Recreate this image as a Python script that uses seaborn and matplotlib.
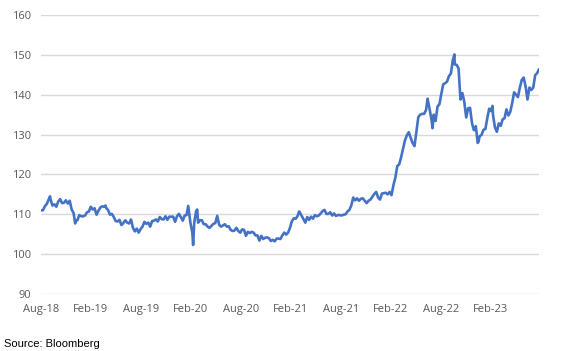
import pandas as pd
import matplotlib
matplotlib.use("Agg")
import matplotlib.pyplot as plt
import seaborn as sns

# Weekly (Friday) closes, 31 Aug 2018 -> 25 Aug 2023
START = "2018-08-31"
END = "2023-08-25"

vals_2018 = [111.0, 111.0, 112.0, 112.6, 113.7, 113.7, 112.2, 112.5, 111.9,
             113.2, 113.8, 112.8, 112.9, 113.5, 112.7, 113.4, 111.2, 110.3]
vals_2019 = [108.5, 108.5, 109.8, 109.5,
             109.5, 109.7, 110.5, 110.7,
             111.9, 111.2, 111.5, 109.9, 110.9,
             111.7, 112.0, 111.9, 111.6,
             111.1, 109.9, 110.1, 109.3, 108.3,
             108.2, 108.6, 107.3, 107.8,
             108.5, 107.9, 107.7, 108.7,
             106.6, 105.7, 106.4, 105.4, 106.3,
             106.9, 108.1, 107.6, 107.9,
             106.9, 108.3, 108.4, 108.7,
             108.2, 109.3, 108.8, 108.7, 109.5,
             108.6, 109.4, 109.4, 109.4]
vals_2020 = [108.1, 109.5, 110.1, 109.3, 108.4,
             109.7, 109.8, 111.6, 107.9,
             105.4, 107.9, 110.8, 107.9,
             108.5, 108.5, 107.5, 107.5,
             106.9, 106.6, 107.1, 107.6, 107.8,
             109.6, 107.4, 106.9, 107.2,
             107.5, 106.9, 107.0, 106.1, 105.8,
             105.9, 106.6, 105.8, 105.4,
             106.2, 106.1, 104.6, 105.6,
             105.3, 105.6, 105.4, 104.7, 104.7,
             103.4, 104.6, 103.8, 104.1,
             104.2, 104.0, 103.3, 103.6]
vals_2021 = [103.2, 103.9, 103.9, 103.8, 104.7,
             105.4, 104.9, 105.4, 106.6,
             108.3, 109.0, 108.9, 109.6,
             110.6, 109.7, 108.8, 107.9, 109.3,
             108.6, 109.4, 108.9, 109.8,
             109.5, 109.7, 110.2, 110.8,
             111.1, 110.1, 110.1, 110.5, 109.7,
             110.2, 109.6, 109.8, 109.8,
             109.7, 109.9, 110.0, 110.7,
             111.1, 112.2, 114.2, 113.5, 114.0,
             113.4, 113.9, 114.0, 113.4,
             112.8, 113.4, 113.7, 114.4, 115.1]
vals_2022 = [115.6, 114.2, 113.7, 115.2,
             115.3, 115.4, 115.0, 115.6,
             114.8, 117.3, 119.2, 122.1,
             122.5, 124.3, 126.4, 128.5, 129.8,
             130.6, 129.2, 127.9, 127.1,
             130.8, 134.4, 135.0, 135.2,
             135.2, 136.1, 138.5, 136.1, 133.3,
             135.0, 133.4, 137.0, 137.6,
             140.2, 142.6, 142.9, 143.3, 144.7,
             145.3, 148.7, 147.6, 147.5,
             146.6, 138.8, 140.4, 138.2,
             134.3, 136.6, 136.7, 132.9, 131.1]
vals_2023 = [132.1, 127.9, 129.6, 129.9,
             131.2, 131.4, 134.1, 136.5,
             135.9, 134.9, 131.8, 130.7, 132.8,
             132.2, 133.8, 134.1, 136.3,
             134.8, 135.7, 137.9, 140.6,
             140.0, 139.4, 141.8, 143.7, 144.3,
             142.1, 138.8, 141.8, 141.2,
             141.8, 144.9, 145.4, 146.4]

# a few intra-week extremes visible in the chart
extra_dates = ["2018-10-03", "2019-01-03", "2019-04-24", "2020-02-20",
               "2020-03-09", "2020-03-24", "2021-03-31", "2022-07-14",
               "2022-08-01", "2022-10-20", "2023-01-16", "2023-03-08"]
extra_vals = [114.5, 107.7, 112.2, 112.1, 102.3, 111.2, 110.7, 139.0,
              131.6, 150.1, 128.2, 137.2]

y_ticks = [90, 100, 110, 120, 130, 140, 150, 160]

BLUE = "#4472C4"
GREY_TXT = "#595959"
GRID = "#D9D9D9"


def main():
    weekly = vals_2018 + vals_2019 + vals_2020 + vals_2021 + vals_2022 + vals_2023
    dates = pd.date_range(START, END, freq="W-FRI")
    df = pd.DataFrame({"date": dates, "rate": weekly})
    extra = pd.DataFrame({"date": pd.to_datetime(extra_dates), "rate": extra_vals})
    df = pd.concat([df, extra]).sort_values("date").reset_index(drop=True)

    sns.set_style("white")
    plt.rcParams["font.family"] = ["Open Sans", "DejaVu Sans"]

    fig = plt.figure(figsize=(5.65, 3.51), dpi=100)
    ax = fig.add_axes([41 / 565, 1 - 294 / 351, 498 / 565, 279 / 351])

    sns.lineplot(data=df, x="date", y="rate", ax=ax, color=BLUE, linewidth=1.9)

    start = pd.Timestamp(START)
    ax.set_xlim(start, pd.Timestamp(END))
    ax.set_ylim(90, 160)
    ax.set_yticks(y_ticks)
    ax.set_yticklabels([str(v) for v in y_ticks])

    xt = [start + pd.DateOffset(months=6 * k) for k in range(10)]
    ax.set_xticks(xt)
    ax.set_xticklabels([d.strftime("%b-%y") for d in xt])

    ax.grid(axis="y", color=GRID, linewidth=1.0)
    ax.grid(axis="x", visible=False)
    ax.set_axisbelow(True)
    for s in ax.spines.values():
        s.set_visible(False)
    ax.tick_params(axis="both", length=0, labelsize=8, labelcolor=GREY_TXT)
    ax.tick_params(axis="x", pad=7.5)
    ax.tick_params(axis="y", pad=7)
    ax.set_xlabel("")
    ax.set_ylabel("")

    fig.text(4 / 565, 1 - 344 / 351, "Source: Bloomberg", fontsize=8,
             family=["Liberation Sans", "DejaVu Sans"], color="black",
             ha="left", va="center")

    fig.savefig("out.png", dpi=100)
    plt.close(fig)


if __name__ == "__main__":
    main()
